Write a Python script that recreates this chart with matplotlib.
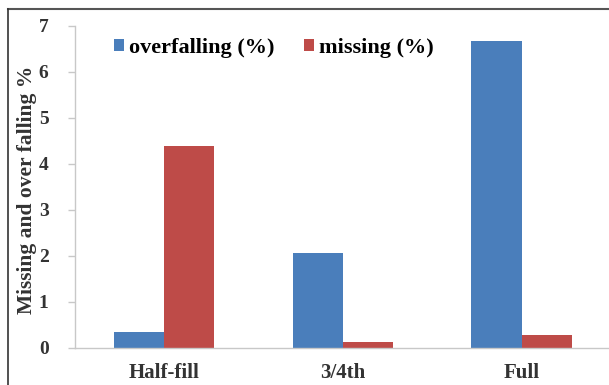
import matplotlib
matplotlib.use("Agg")
import matplotlib.pyplot as plt
from matplotlib.lines import Line2D
import numpy as np

categories = ["Half-fill", "3/4th", "Full"]
overfalling = [0.35, 2.06, 6.66]
missing = [4.39, 0.13, 0.27]
series_names = ["overfalling (%)", "missing (%)"]
y_ticks = [0, 1, 2, 3, 4, 5, 6, 7]

blue = "#4A7EBB"
red = "#BE4B48"
serif = ["Liberation Serif", "DejaVu Serif"]

fig = plt.figure(figsize=(6.09, 3.85), dpi=100)
ax = fig.add_axes([0.123, 0.097, 0.88, 0.836])

x = np.arange(len(categories))
w = 0.28
ax.bar(x - w / 2, overfalling, width=w, color=blue, label=series_names[0])
ax.bar(x + w / 2, missing, width=w, color=red, label=series_names[1])

ax.set_xlim(-0.5, 2.5)
ax.set_ylim(0, 7)
ax.set_yticks(y_ticks)
ax.set_yticklabels([str(t) for t in y_ticks], fontfamily=serif,
                   fontweight="bold", fontsize=14, color="#333333")
ax.set_xticks(x)
ax.set_xticklabels(categories, fontfamily=serif, fontweight="bold",
                   fontsize=15, color="#333333")
ax.tick_params(axis="x", length=0, pad=11)
ax.tick_params(axis="y", length=5, width=1, color="#C8C8C8", pad=14)

for side in ("top", "right"):
    ax.spines[side].set_visible(False)
for side in ("left", "bottom"):
    ax.spines[side].set_color("#C8C8C8")
    ax.spines[side].set_linewidth(1)

ax.set_ylabel("Missing and over falling %", fontfamily=serif,
              fontweight="bold", fontsize=15.5, color="#333333")
ax.yaxis.set_label_coords(-0.071, 0.49)

ax.legend(loc="upper left", bbox_to_anchor=(0.035, 1.025), ncol=2,
          frameon=False, handlelength=0.45, handleheight=0.45,
          handletextpad=0.25, columnspacing=1.3,
          prop={"family": serif, "weight": "bold", "size": 16})

# outer frame lines (top and left)
fig.add_artist(Line2D([8 / 609, 1.0], [1 - 9 / 385, 1 - 9 / 385],
                      transform=fig.transFigure, color="#555555", lw=1.5))
fig.add_artist(Line2D([8 / 609, 8 / 609], [0, 1 - 9 / 385],
                      transform=fig.transFigure, color="#333333", lw=1.2))

fig.savefig("out.png", dpi=100)
